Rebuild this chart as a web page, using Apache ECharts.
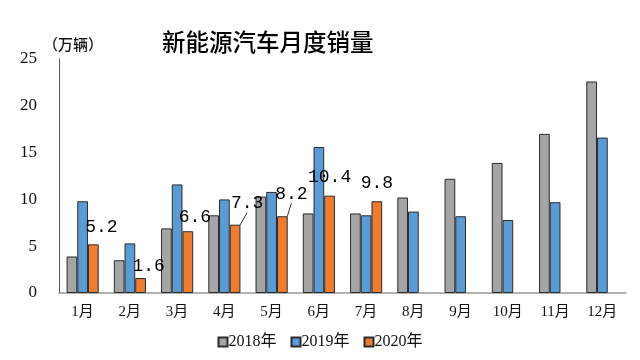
<!DOCTYPE html>
<html><head><meta charset="utf-8">
<script src="https://cdn.jsdelivr.net/npm/echarts@6/dist/echarts.min.js"></script>
<style>html,body{margin:0;padding:0;background:#fff}#c{width:640px;height:360px}</style>
</head><body><div id="c"></div>
<script>
const categories = ['1月','2月','3月','4月','5月','6月','7月','8月','9月','10月','11月','12月'];
const sales2018 = [3.9, 3.5, 6.9, 8.3, 10.3, 8.5, 8.5, 10.2, 12.2, 13.9, 17.0, 22.6];
const sales2019 = [9.8, 5.3, 11.6, 10.0, 10.8, 15.6, 8.3, 8.7, 8.2, 7.8, 9.7, 16.6];
const sales2020 = [5.2, 1.6, 6.6, 7.3, 8.2, 10.4, 9.8, null, null, null, null, null];
const seriesNames = ['2018年','2019年','2020年'];
const yTicks = [0, 5, 10, 15, 20, 25];

const labelShift = [[8,-3],[8,2],[7,0],[12,-7],[9,-8],[0,-4],[0,-4]];
const leader = [false,false,false,true,true,false,false];

const chart = echarts.init(document.getElementById('c'));
const barStyle = c => ({color: c, borderColor: '#2b2b2b', borderWidth: 1});
chart.setOption({
  animation: false,
  title: {
    text: '新能源汽车月度销量', left: 157, top: 25,
    textStyle: {fontFamily: 'Noto Sans CJK SC', fontSize: 23.5, fontWeight: 500, color: '#000'}
  },
  graphic: [{
    type: 'text', left: 43, top: 37,
    style: {text: '（万辆）', font: '500 15px "Noto Sans CJK SC"', fill: '#111'}
  }],
  legend: {
    bottom: 5, left: 'center', itemWidth: 9, itemHeight: 9, itemGap: 14,
    icon: 'rect',
    textStyle: {fontFamily: 'Liberation Serif, Noto Sans CJK SC', fontSize: 16, color: '#111', padding: [0,0,0,-4]},
    data: seriesNames
  },
  grid: {left: 59, right: 14, top: 59, bottom: 67},
  xAxis: {
    type: 'category', data: categories,
    axisLine: {lineStyle: {color: '#999', width: 1.5}},
    axisTick: {show: false},
    axisLabel: {fontFamily: 'Liberation Serif, Noto Sans CJK SC', fontSize: 15, color: '#111', margin: 12}
  },
  yAxis: {
    type: 'value', min: yTicks[0], max: yTicks[yTicks.length-1], interval: 5,
    axisLine: {show: true, lineStyle: {color: '#555'}},
    axisTick: {show: false},
    splitLine: {show: false},
    axisLabel: {fontFamily: 'Liberation Serif', fontSize: 17, color: '#111', margin: 22}
  },
  series: [
    {name: seriesNames[0], type: 'bar', data: sales2018, barGap: '0%', barCategoryGap: '32%', itemStyle: barStyle('#a5a5a5')},
    {name: seriesNames[1], type: 'bar', data: sales2019, itemStyle: barStyle('#5b9bd5')},
    {name: seriesNames[2], type: 'bar', itemStyle: barStyle('#ed7d31'),
     data: sales2020.map((v, i) => v == null ? null : {value: v, labelLine: {show: !!leader[i]}}),
     label: {show: true, position: 'top', distance: 5, fontFamily: 'Liberation Mono', fontSize: 18, color: '#000'},
     labelLine: {show: false, lineStyle: {color: '#333', width: 1}},
     labelLayout: p => {
       const s = labelShift[p.dataIndex] || [0,0];
       return {dx: s[0], dy: s[1]};
     }
    }
  ]
});
</script></body></html>
